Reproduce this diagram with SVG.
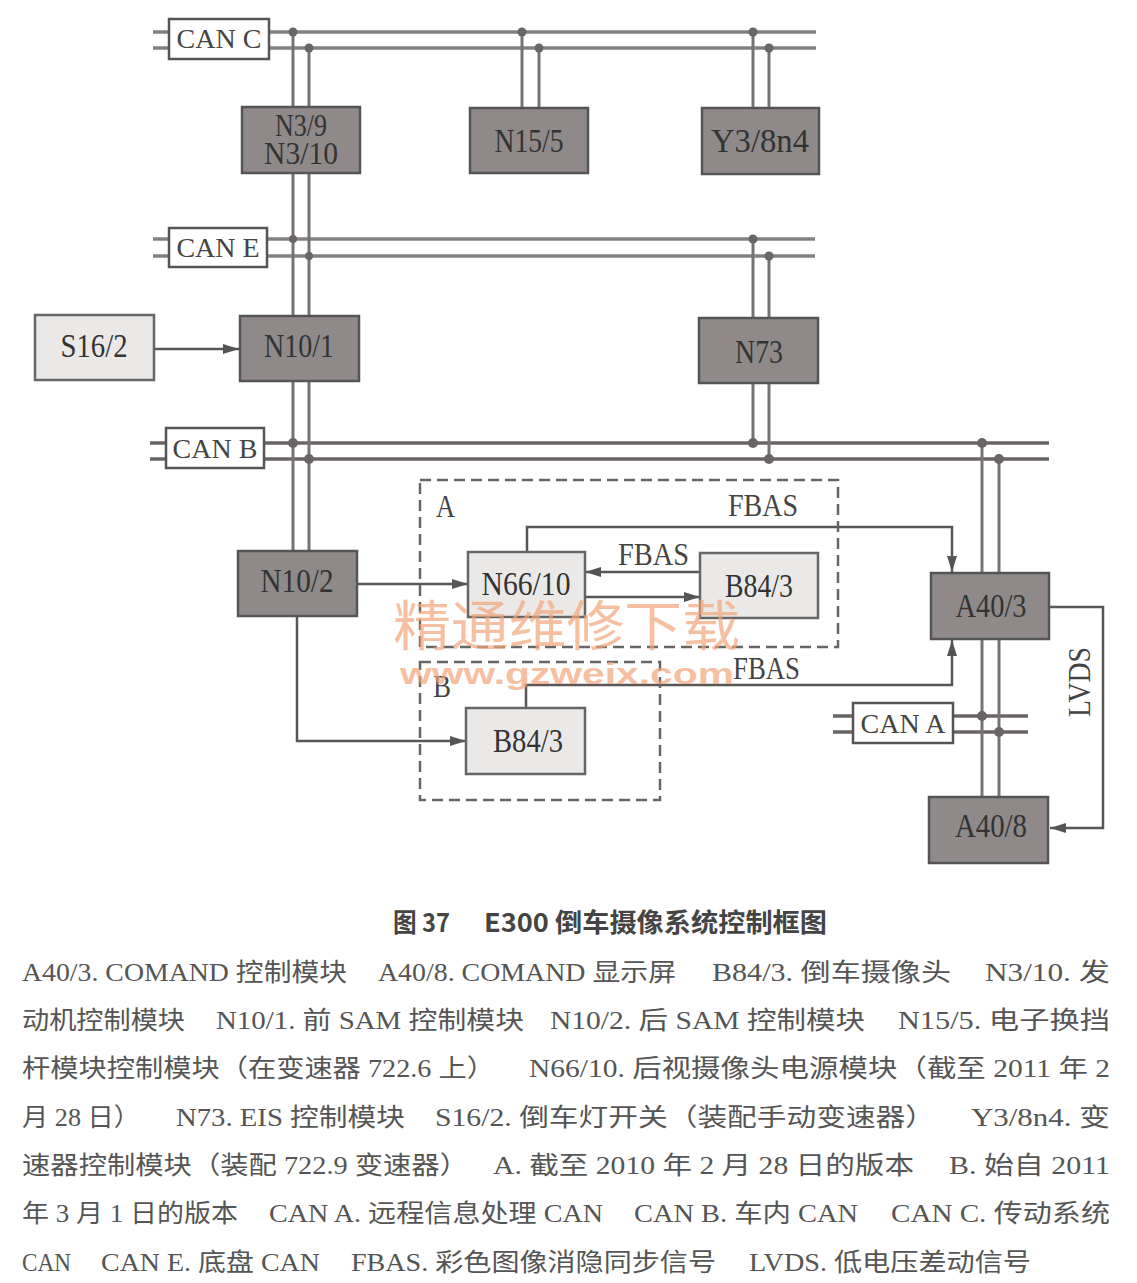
<svg xmlns="http://www.w3.org/2000/svg" width="1137" height="1283" viewBox="0 0 1137 1283">
<style>
.bus{stroke:#858080;stroke-width:3.5;fill:none}
.busd{stroke:#6a6565;stroke-width:3.5;fill:none}
.v{stroke:#777272;stroke-width:3;fill:none}
.ln{stroke:#5a5656;stroke-width:2.5;fill:none}
.dot{fill:#6a6565}
.dk{fill:#8f8a89;stroke:#555;stroke-width:2.5}
.lt{fill:#ebe9e8;stroke:#666;stroke-width:2.5}
.cb{fill:#fff;stroke:#555;stroke-width:2.5}
.t{font-family:"Liberation Serif","Times New Roman",serif;font-size:34px;fill:#333;text-anchor:middle}
.t2{font-family:"Liberation Serif","Times New Roman",serif;font-size:31px;fill:#333;text-anchor:middle}
.c{font-family:"Liberation Serif","Times New Roman",serif;font-size:28px;fill:#444;text-anchor:middle}
.lbl{font-family:"Liberation Serif","Times New Roman",serif;font-size:31px;fill:#444}
.dash{fill:none;stroke:#666;stroke-width:2.5;stroke-dasharray:11 6}
.cap{font-family:"Liberation Serif","Noto Sans CJK SC",serif;font-size:25px;fill:#555}
.ttl{font-family:"Noto Sans CJK SC","Liberation Sans",sans-serif;font-size:26px;font-weight:bold;fill:#444}
</style>
<defs>
<marker id="arr" viewBox="0 0 16 10" refX="16" refY="5" markerWidth="16" markerHeight="10" markerUnits="userSpaceOnUse" orient="auto"><path d="M0,0 L16,5 L0,10 z" fill="#555"/></marker>
</defs>
<rect width="1137" height="1283" fill="#fff"/>

<g id="connectors">
<line class="bus" x1="153" y1="32" x2="816" y2="32"/>
<line class="bus" x1="153" y1="48" x2="816" y2="48"/>
<line class="bus" x1="153" y1="239" x2="815" y2="239"/>
<line class="bus" x1="153" y1="256" x2="815" y2="256"/>
<line class="busd" x1="150" y1="443" x2="1049" y2="443"/>
<line class="busd" x1="150" y1="459" x2="1049" y2="459"/>
<line class="busd" x1="833" y1="716" x2="1028" y2="716"/>
<line class="busd" x1="833" y1="732" x2="1028" y2="732"/>
<line class="v" x1="293" y1="32" x2="293" y2="551"/>
<line class="v" x1="309" y1="48" x2="309" y2="551"/>
<line class="v" x1="522" y1="32" x2="522" y2="108"/>
<line class="v" x1="539" y1="48" x2="539" y2="108"/>
<line class="v" x1="753" y1="32" x2="753" y2="108"/>
<line class="v" x1="769" y1="48" x2="769" y2="108"/>
<line class="v" x1="753" y1="239" x2="753" y2="443"/>
<line class="v" x1="769" y1="256" x2="769" y2="459"/>
<line class="v" x1="982" y1="443" x2="982" y2="797"/>
<line class="v" x1="999" y1="459" x2="999" y2="797"/>
<circle class="dot" cx="293" cy="32" r="4.5"/>
<circle class="dot" cx="309" cy="48" r="4.5"/>
<circle class="dot" cx="522" cy="32" r="4.5"/>
<circle class="dot" cx="539" cy="48" r="4.5"/>
<circle class="dot" cx="753" cy="32" r="4.5"/>
<circle class="dot" cx="769" cy="48" r="4.5"/>
<circle class="dot" cx="293" cy="239" r="4"/>
<circle class="dot" cx="309" cy="256" r="4"/>
<circle class="dot" cx="753" cy="239" r="4.5"/>
<circle class="dot" cx="769" cy="256" r="4.5"/>
<circle class="dot" cx="293" cy="443" r="5"/>
<circle class="dot" cx="309" cy="459" r="5"/>
<circle class="dot" cx="753" cy="443" r="5"/>
<circle class="dot" cx="769" cy="459" r="5"/>
<circle class="dot" cx="982" cy="443" r="5"/>
<circle class="dot" cx="999" cy="459" r="5"/>
<circle class="dot" cx="982" cy="716" r="5"/>
<circle class="dot" cx="999" cy="732" r="5"/>
<line class="ln" x1="154" y1="349" x2="239" y2="349" marker-end="url(#arr)"/>
<line class="ln" x1="357" y1="584" x2="468" y2="584" marker-end="url(#arr)"/>
<path class="ln" d="M297,616 V741 H466" marker-end="url(#arr)"/>
<line class="ln" x1="700" y1="572" x2="585" y2="572" marker-end="url(#arr)"/>
<line class="ln" x1="585" y1="597" x2="700" y2="597" marker-end="url(#arr)"/>
<path class="ln" d="M527,552 V527 H952 V572" marker-end="url(#arr)"/>
<path class="ln" d="M526,708 V685 H952 V640" marker-end="url(#arr)"/>
<path class="ln" d="M1049,607 H1103 V828 H1050" marker-end="url(#arr)"/>
</g>

<g id="dashA"><rect class="dash" x="420" y="480" width="418" height="167"/><text class="lbl" x="436" y="517" textLength="19" lengthAdjust="spacingAndGlyphs">A</text></g>
<g id="dashB"><rect class="dash" x="420" y="662" width="240" height="138"/><text class="lbl" x="433" y="697" textLength="18" lengthAdjust="spacingAndGlyphs">B</text></g>

<g id="canC"><rect class="cb" x="169" y="19" width="100" height="40"/><text class="c" x="219" y="48">CAN C</text></g>
<g id="canE"><rect class="cb" x="169" y="228" width="98" height="39"/><text class="c" x="218" y="257">CAN E</text></g>
<g id="canB"><rect class="cb" x="166" y="428" width="98" height="40"/><text class="c" x="215" y="458">CAN B</text></g>
<g id="canA"><rect class="cb" x="853" y="703" width="100" height="40"/><text class="c" x="903" y="733">CAN A</text></g>

<g id="N3-9"><rect class="dk" x="242" y="107" width="118" height="66"/><text class="t2" x="301" y="136" textLength="52" lengthAdjust="spacingAndGlyphs">N3/9</text><text class="t2" x="301" y="164" textLength="74" lengthAdjust="spacingAndGlyphs">N3/10</text></g>
<g id="N15-5"><rect class="dk" x="470" y="108" width="118" height="65"/><text class="t" x="529" y="152" textLength="69" lengthAdjust="spacingAndGlyphs">N15/5</text></g>
<g id="Y3-8n4"><rect class="dk" x="702" y="108" width="117" height="66"/><text class="t" x="760" y="152" textLength="98" lengthAdjust="spacingAndGlyphs">Y3/8n4</text></g>
<g id="S16-2"><rect class="lt" x="35" y="315" width="119" height="65"/><text class="t" x="94" y="357" textLength="67" lengthAdjust="spacingAndGlyphs">S16/2</text></g>
<g id="N10-1"><rect class="dk" x="240" y="316" width="119" height="65"/><text class="t" x="299" y="357" textLength="70" lengthAdjust="spacingAndGlyphs">N10/1</text></g>
<g id="N73"><rect class="dk" x="699" y="318" width="119" height="65"/><text class="t" x="759" y="363" textLength="48" lengthAdjust="spacingAndGlyphs">N73</text></g>
<g id="N10-2"><rect class="dk" x="238" y="551" width="119" height="65"/><text class="t" x="297" y="592" textLength="73" lengthAdjust="spacingAndGlyphs">N10/2</text></g>
<g id="N66-10"><rect class="lt" x="468" y="552" width="117" height="65"/><text class="t" x="526" y="595" textLength="89" lengthAdjust="spacingAndGlyphs">N66/10</text></g>
<g id="B84-3a"><rect class="lt" x="700" y="553" width="118" height="65"/><text class="t" x="759" y="597" textLength="68" lengthAdjust="spacingAndGlyphs">B84/3</text></g>
<g id="B84-3b"><rect class="lt" x="466" y="708" width="119" height="66"/><text class="t" x="528" y="752" textLength="70" lengthAdjust="spacingAndGlyphs">B84/3</text></g>
<g id="A40-3"><rect class="dk" x="931" y="573" width="118" height="66"/><text class="t" x="991" y="617" textLength="71" lengthAdjust="spacingAndGlyphs">A40/3</text></g>
<g id="A40-8"><rect class="dk" x="929" y="797" width="119" height="66"/><text class="t" x="991" y="837" textLength="72" lengthAdjust="spacingAndGlyphs">A40/8</text></g>

<g id="labels">
<text class="lbl" x="728" y="516" textLength="70" lengthAdjust="spacingAndGlyphs">FBAS</text>
<text class="lbl" x="618" y="565" textLength="71" lengthAdjust="spacingAndGlyphs">FBAS</text>
<text class="lbl" x="733" y="679" textLength="67" lengthAdjust="spacingAndGlyphs">FBAS</text>
<text class="lbl" text-anchor="middle" transform="translate(1090,682) rotate(-90)" textLength="70" lengthAdjust="spacingAndGlyphs">LVDS</text>
</g>

<g id="watermark" opacity="0.7">
<text x="393" y="646" font-family="Noto Sans CJK SC, sans-serif" font-size="54" fill="#f3a57a" textLength="347" lengthAdjust="spacingAndGlyphs">精通维修下载</text>
<text x="400" y="684" font-family="Liberation Sans, Arial, sans-serif" font-size="30" font-weight="bold" fill="#f3a57a" textLength="334" lengthAdjust="spacingAndGlyphs">www.gzweix.com</text>
</g>

<g id="caption">
<text class="ttl" x="393" y="932" textLength="57" lengthAdjust="spacingAndGlyphs">图 37</text>
<text class="ttl" x="484" y="932" textLength="343" lengthAdjust="spacingAndGlyphs">E300 倒车摄像系统控制框图</text>

<text class="cap" x="22" y="981" textLength="325" lengthAdjust="spacingAndGlyphs">A40/3. COMAND 控制模块</text>
<text class="cap" x="378" y="981" textLength="298" lengthAdjust="spacingAndGlyphs">A40/8. COMAND 显示屏</text>
<text class="cap" x="712" y="981" textLength="239" lengthAdjust="spacingAndGlyphs">B84/3. 倒车摄像头</text>
<text class="cap" x="985" y="981" textLength="125" lengthAdjust="spacingAndGlyphs">N3/10. 发</text>

<text class="cap" x="22" y="1029" textLength="163" lengthAdjust="spacingAndGlyphs">动机控制模块</text>
<text class="cap" x="216" y="1029" textLength="308" lengthAdjust="spacingAndGlyphs">N10/1. 前 SAM 控制模块</text>
<text class="cap" x="550" y="1029" textLength="315" lengthAdjust="spacingAndGlyphs">N10/2. 后 SAM 控制模块</text>
<text class="cap" x="898" y="1029" textLength="212" lengthAdjust="spacingAndGlyphs">N15/5. 电子换挡</text>

<text class="cap" x="22" y="1077" textLength="473" lengthAdjust="spacingAndGlyphs">杆模块控制模块（在变速器 722.6 上）</text>
<text class="cap" x="529" y="1077" textLength="581" lengthAdjust="spacingAndGlyphs">N66/10. 后视摄像头电源模块（截至 2011 年 2</text>

<text class="cap" x="22" y="1126" textLength="118" lengthAdjust="spacingAndGlyphs">月 28 日）</text>
<text class="cap" x="176" y="1126" textLength="229" lengthAdjust="spacingAndGlyphs">N73. EIS 控制模块</text>
<text class="cap" x="435" y="1126" textLength="500" lengthAdjust="spacingAndGlyphs">S16/2. 倒车灯开关（装配手动变速器）</text>
<text class="cap" x="971" y="1126" textLength="139" lengthAdjust="spacingAndGlyphs">Y3/8n4. 变</text>

<text class="cap" x="22" y="1174" textLength="446" lengthAdjust="spacingAndGlyphs">速器控制模块（装配 722.9 变速器）</text>
<text class="cap" x="493" y="1174" textLength="421" lengthAdjust="spacingAndGlyphs">A. 截至 2010 年 2 月 28 日的版本</text>
<text class="cap" x="949" y="1174" textLength="161" lengthAdjust="spacingAndGlyphs">B. 始自 2011</text>

<text class="cap" x="22" y="1222" textLength="216" lengthAdjust="spacingAndGlyphs">年 3 月 1 日的版本</text>
<text class="cap" x="269" y="1222" textLength="334" lengthAdjust="spacingAndGlyphs">CAN A. 远程信息处理 CAN</text>
<text class="cap" x="634" y="1222" textLength="224" lengthAdjust="spacingAndGlyphs">CAN B. 车内 CAN</text>
<text class="cap" x="891" y="1222" textLength="219" lengthAdjust="spacingAndGlyphs">CAN C. 传动系统</text>

<text class="cap" x="22" y="1271" textLength="49" lengthAdjust="spacingAndGlyphs">CAN</text>
<text class="cap" x="101" y="1271" textLength="219" lengthAdjust="spacingAndGlyphs">CAN E. 底盘 CAN</text>
<text class="cap" x="351" y="1271" textLength="365" lengthAdjust="spacingAndGlyphs">FBAS. 彩色图像消隐同步信号</text>
<text class="cap" x="749" y="1271" textLength="282" lengthAdjust="spacingAndGlyphs">LVDS. 低电压差动信号</text>
</g>
</svg>
